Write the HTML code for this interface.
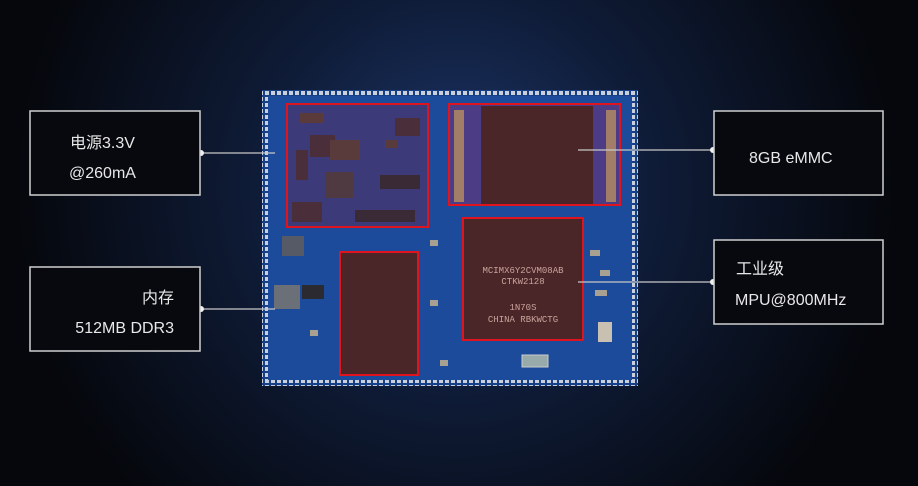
<!DOCTYPE html>
<html><head><meta charset="utf-8"><style>
html,body{margin:0;padding:0;width:918px;height:486px;overflow:hidden;background:#05070c}
svg{display:block}
text{font-family:"Liberation Sans","Noto Sans CJK SC",sans-serif;fill:#e8e8e8;font-size:16px}
</style></head><body>
<svg width="918" height="486" viewBox="0 0 918 486">
<defs>
<radialGradient id="bg" cx="455" cy="190" r="440" gradientUnits="userSpaceOnUse">
<stop offset="0" stop-color="#1d3568"/><stop offset="0.45" stop-color="#0f1c38"/><stop offset="1" stop-color="#05070c"/></radialGradient>
<pattern id="pads" width="6" height="6" patternUnits="userSpaceOnUse"><rect width="6" height="6" fill="#163f86"/><rect x="1" y="1" width="4" height="4" fill="#c9d0dc"/></pattern>
</defs>
<rect width="918" height="486" fill="url(#bg)"/>
<!-- board -->
<rect x="262" y="90" width="376" height="296" fill="#1d4b9b"/>
<rect x="262" y="90" width="376" height="6" fill="url(#pads)"/>
<rect x="262" y="380" width="376" height="6" fill="url(#pads)"/>
<rect x="262" y="90" width="6" height="296" fill="url(#pads)"/>
<rect x="632" y="90" width="6" height="296" fill="url(#pads)"/>
<!-- power area -->
<rect x="287" y="104" width="141" height="123" fill="#3c3a78" stroke="#e0141e" stroke-width="2"/>
<rect x="300" y="113" width="24" height="10" fill="#5a3a3a"/><rect x="310" y="135" width="25" height="22" fill="#4a2f3a"/>
<rect x="330" y="140" width="30" height="20" fill="#5a3b3b"/><rect x="395" y="118" width="25" height="18" fill="#4a2f3a"/>
<rect x="325" y="172" width="28" height="26" fill="#4e3a40"/><rect x="380" y="175" width="40" height="14" fill="#3a2a35"/>
<rect x="292" y="202" width="30" height="20" fill="#4a2f3a"/><rect x="355" y="210" width="60" height="12" fill="#3a2a35"/>
<rect x="296" y="150" width="12" height="30" fill="#4a2f3a"/><rect x="385" y="140" width="12" height="8" fill="#5a3b3b"/>
<!-- eMMC -->
<rect x="449" y="104" width="171" height="101" fill="#4c3c85" stroke="#e0141e" stroke-width="2"/>
<rect x="454" y="110" width="10" height="92" fill="#c79a5c" opacity="0.7"/><rect x="606" y="110" width="10" height="92" fill="#c79a5c" opacity="0.7"/>
<rect x="481" y="106" width="112" height="98" fill="#4a2628"/>
<!-- CPU -->
<rect x="463" y="218" width="120" height="122" fill="#4a2628" stroke="#e0141e" stroke-width="2"/>
<text x="523" y="273" text-anchor="middle" style="font-size:9px;fill:#c9a39c;font-family:'Liberation Mono',monospace">MCIMX6Y2CVM08AB</text>
<text x="523" y="284" text-anchor="middle" style="font-size:9px;fill:#c9a39c;font-family:'Liberation Mono',monospace">CTKW2128</text>
<text x="523" y="310" text-anchor="middle" style="font-size:9px;fill:#c9a39c;font-family:'Liberation Mono',monospace">1N70S</text>
<text x="523" y="322" text-anchor="middle" style="font-size:9px;fill:#c9a39c;font-family:'Liberation Mono',monospace">CHINA RBKWCTG</text>
<!-- DDR -->
<rect x="340" y="252" width="78" height="123" fill="#4a2628" stroke="#e0141e" stroke-width="2"/>
<!-- misc parts -->
<rect x="282" y="236" width="22" height="20" fill="#555a66"/><rect x="274" y="285" width="26" height="24" fill="#6a6f78"/>
<rect x="302" y="285" width="22" height="14" fill="#2a2a30"/><rect x="598" y="322" width="14" height="20" fill="#c8c0b0"/>
<rect x="522" y="355" width="26" height="12" fill="#9aa" stroke="#ccc"/>
<g fill="#a8a090"><rect x="590" y="250" width="10" height="6"/><rect x="600" y="270" width="10" height="6"/><rect x="430" y="240" width="8" height="6"/><rect x="430" y="300" width="8" height="6"/><rect x="310" y="330" width="8" height="6"/><rect x="595" y="290" width="12" height="6"/><rect x="440" y="360" width="8" height="6"/></g>
<!-- lines -->
<g stroke="#c8c8c8" stroke-width="1.2">
<line x1="200" y1="153" x2="275" y2="153"/><line x1="200" y1="309" x2="275" y2="309"/>
<line x1="578" y1="150" x2="714" y2="150"/><line x1="578" y1="282" x2="714" y2="282"/>
</g>
<g fill="#f0f0f0"><circle cx="201" cy="153" r="3"/><circle cx="201" cy="309" r="3"/><circle cx="713" cy="150" r="3"/><circle cx="713" cy="282" r="3"/></g>
<!-- boxes -->
<g fill="#07090e" stroke="#cfcfcf" stroke-width="1.5">
<rect x="30" y="111" width="170" height="84"/><rect x="30" y="267" width="170" height="84"/>
<rect x="714" y="111" width="169" height="84"/><rect x="714" y="240" width="169" height="84"/>
</g>
<text x="70" y="148">电源3.3V</text><text x="69" y="178">@260mA</text>
<text x="174" y="303" text-anchor="end">内存</text><text x="174" y="333" text-anchor="end">512MB DDR3</text>
<text x="749" y="163">8GB eMMC</text>
<text x="736" y="274">工业级</text><text x="735" y="305">MPU@800MHz</text>
</svg>
</body></html>
